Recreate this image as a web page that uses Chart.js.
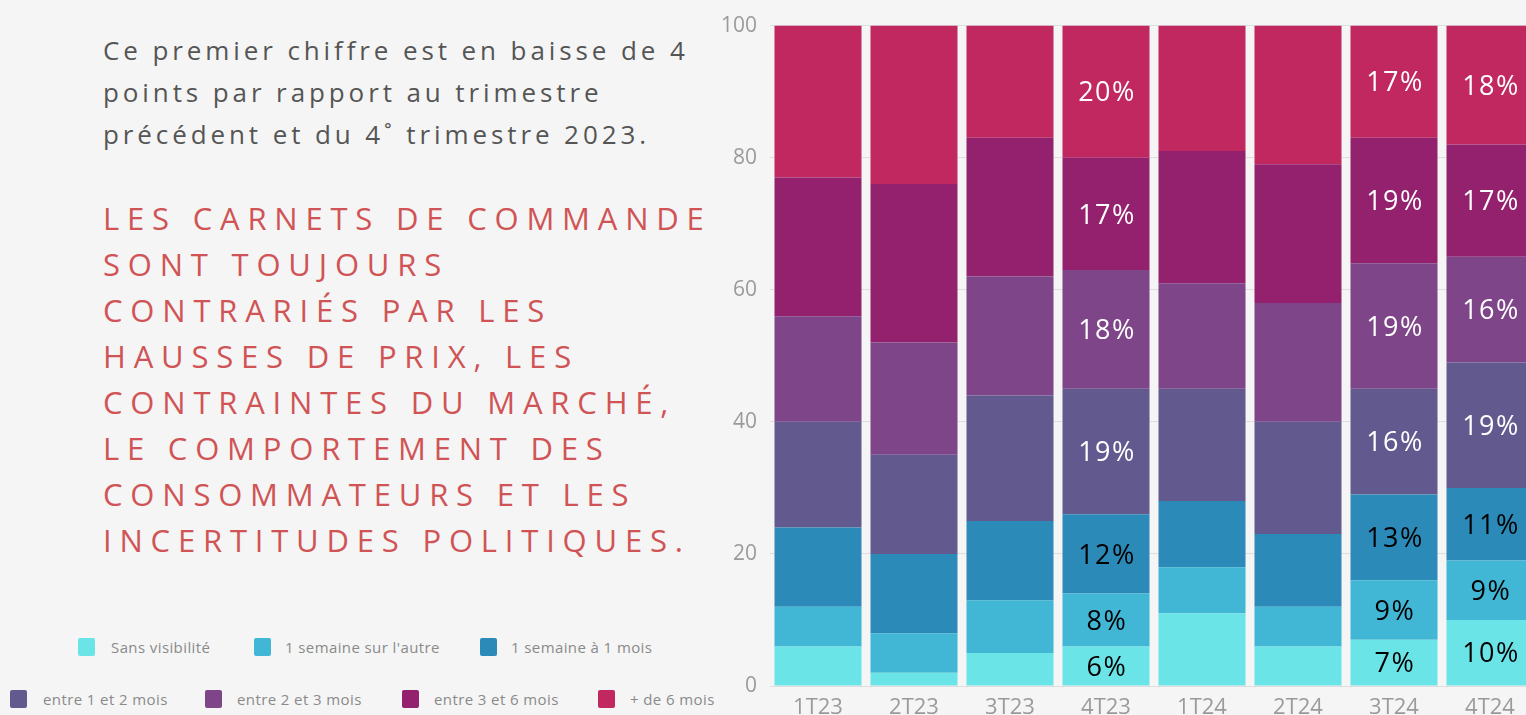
<!DOCTYPE html>
<html lang="fr">
<head>
<meta charset="utf-8">
<script src="https://cdn.jsdelivr.net/npm/chart.js@4.4.1/dist/chart.umd.min.js"></script>
<style>
  html, body { margin:0; padding:0; width:1526px; height:715px; overflow:hidden; background:#f5f5f5; }
  #intro { position:absolute; left:103px; top:29px; font-family:"Open Sans", sans-serif; font-size:26px; line-height:42px; letter-spacing:3.9px; color:#555; font-weight:400; white-space:nowrap; }
  #headline { position:absolute; left:103px; top:195px; font-family:"Open Sans", sans-serif; font-size:31px; line-height:46px; letter-spacing:7.8px; color:#d05455; font-weight:500; white-space:nowrap; }
  #legend { position:absolute; left:0; top:0; font-family:"Open Sans", sans-serif; font-size:15px; color:#8a8a8a; }
  .li { position:absolute; display:flex; align-items:center; white-space:nowrap; letter-spacing:0.4px; }
  .sw { width:17px; height:18px; border-radius:2px; display:inline-block; }
  #chartWrap { position:absolute; left:700px; top:0; }
</style>
</head>
<body>
<div id="intro">Ce premier chiffre est en baisse de 4<br>points par rapport au trimestre<br>précédent et du 4˚ trimestre 2023.</div>
<div id="headline">LES CARNETS DE COMMANDE<br>SONT TOUJOURS<br>CONTRARIÉS PAR LES<br>HAUSSES DE PRIX, LES<br>CONTRAINTES DU MARCHÉ,<br>LE COMPORTEMENT DES<br>CONSOMMATEURS ET LES<br>INCERTITUDES POLITIQUES.</div>
<div id="legend"></div>
<div id="chartWrap"><canvas id="c" width="838" height="715"></canvas></div>
<script>
// ---- Data ----
const categories = ['1T23','2T23','3T23','4T23','1T24','2T24','3T24','4T24'];
const seriesNames = ['Sans visibilité','1 semaine sur l\'autre','1 semaine à 1 mois','entre 1 et 2 mois','entre 2 et 3 mois','entre 3 et 6 mois','+ de 6 mois'];
const sansVisibilite   = [6, 2, 5, 6, 11, 6, 7, 10];
const uneSemaineAutre  = [6, 6, 8, 8, 7, 6, 9, 9];
const uneSemaineUnMois = [12, 12, 12, 12, 10, 11, 13, 11];
const entre1et2        = [16, 15, 19, 19, 17, 17, 16, 19];
const entre2et3        = [16, 17, 18, 18, 16, 18, 19, 16];
const entre3et6        = [21, 24, 21, 17, 20, 21, 19, 17];
const plusDe6          = [23, 24, 17, 20, 19, 21, 17, 18];
const yTicks = [0, 20, 40, 60, 80, 100];
const labeledCategories = ['4T23','3T24','4T24'];

// ---- Styles ----
const colors = ['#6be4e8','#42b6d5','#2c8ab9','#625a8f','#7f4589','#94216e','#c0285f'];
const labelColors = ['#000','#000','#000','#fff','#fff','#fff','#fff'];
const seriesValues = [sansVisibilite, uneSemaineAutre, uneSemaineUnMois, entre1et2, entre2et3, entre3et6, plusDe6];

// legend (HTML)
const legendPos = [
  {sx:78, tx:111, y:647}, {sx:254, tx:285, y:647}, {sx:480, tx:511, y:647},
  {sx:10, tx:43, y:699}, {sx:205, tx:237, y:699}, {sx:402, tx:434, y:699}, {sx:598, tx:630, y:699}
];
const legendEl = document.getElementById('legend');
seriesNames.forEach((n, i) => {
  const p = legendPos[i];
  const sw = document.createElement('span');
  sw.className = 'sw';
  sw.style.cssText = `position:absolute;left:${p.sx}px;top:${p.y-9}px;background:${colors[i]}`;
  legendEl.appendChild(sw);
  const t = document.createElement('span');
  t.className = 'li';
  t.style.cssText += `left:${p.tx}px;top:${p.y-9}px;height:18px;`;
  t.textContent = n;
  legendEl.appendChild(t);
});

const segLabels = {
  id: 'segLabels',
  afterDatasetsDraw(chart) {
    const ctx = chart.ctx;
    ctx.save();
    ctx.font = '400 27px "Open Sans", sans-serif';
    try { ctx.letterSpacing = '1.5px'; } catch (e) {}
    ctx.textAlign = 'center';
    ctx.textBaseline = 'middle';
    chart.data.datasets.forEach((ds, di) => {
      const meta = chart.getDatasetMeta(di);
      meta.data.forEach((el, i) => {
        if (!labeledCategories.includes(categories[i])) return;
        const cy = (el.y + el.base) / 2 + 2;
        ctx.fillStyle = labelColors[di];
        ctx.fillText(ds.data[i] + '%', el.x + 1, cy);
      });
    });
    ctx.restore();
  }
};

new Chart(document.getElementById('c'), {
  type: 'bar',
  data: {
    labels: categories,
    datasets: seriesValues.map((v, i) => ({
      label: seriesNames[i], data: v, backgroundColor: colors[i], borderWidth: 0,
      categoryPercentage: 1, barPercentage: 87/96
    }))
  },
  options: {
    responsive: false,
    animation: false,
    layout: { padding: { top: 23, left: 0, right: 0, bottom: 0 } },
    plugins: { legend: { display: false }, tooltip: { enabled: false } },
    scales: {
      x: {
        stacked: true,
        grid: { display: false, drawTicks: false },
        border: { display: false },
        ticks: { color: '#9a9a9a', font: { family: '"Open Sans", sans-serif', size: 22 }, padding: 9, maxRotation: 0, autoSkip: false },
        afterFit(s) { s.height = 29; }
      },
      y: {
        stacked: true, min: 0, max: 100,
        afterBuildTicks(s) { s.ticks = yTicks.map(v => ({ value: v })); },
        grid: { color: '#dedede', drawTicks: false, lineWidth: 1 },
        border: { display: false },
        ticks: { color: '#9a9a9a', font: { family: '"Open Sans", sans-serif', size: 21 }, padding: 13 },
        afterFit(s) { s.width = 70; }
      }
    }
  },
  plugins: [segLabels]
});
</script>
</body>
</html>
